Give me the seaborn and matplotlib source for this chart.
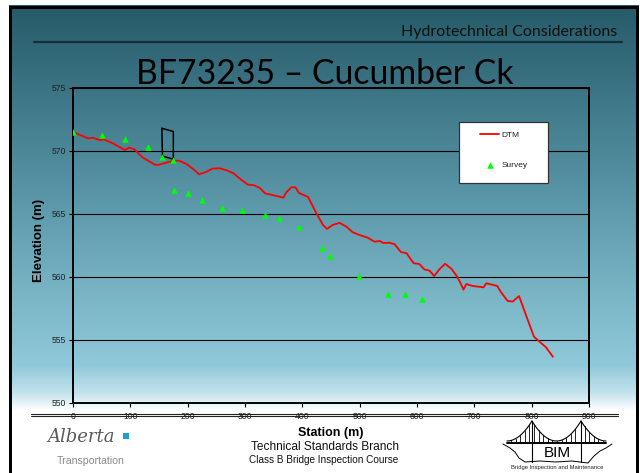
import numpy as np
import matplotlib
matplotlib.use("Agg")
import matplotlib.pyplot as plt
from matplotlib.colors import to_rgb
from matplotlib.patches import Rectangle
import seaborn as sns

# %%
# profile
dtm_station = [0, 27, 35, 48, 53, 70, 90, 98, 107, 122, 143, 149, 175, 185, 198,
               210, 220, 233, 243, 256, 268, 280, 294, 305, 316, 326, 335, 355,
               367, 372, 381, 388, 394, 410, 424, 436, 443, 453, 465, 477, 488,
               500, 514, 526, 535, 541, 552, 561, 572, 582, 594, 604, 613, 622,
               630, 639, 649, 660, 669, 675, 681, 686, 697, 716, 721, 740, 746,
               758, 767, 778, 790, 804, 825, 837]
dtm_elev = [571.5, 571.0, 571.05, 570.85, 570.93, 570.6, 570.08, 570.27, 570.13,
            569.47, 568.91, 568.9, 569.23, 569.23, 568.97, 568.55, 568.15, 568.36,
            568.6, 568.63, 568.47, 568.23, 567.7, 567.33, 567.28, 567.06, 566.64,
            566.43, 566.3, 566.72, 567.12, 567.12, 566.67, 566.35, 565.1, 564.13,
            563.82, 564.13, 564.3, 563.99, 563.55, 563.33, 563.12, 562.8, 562.86,
            562.7, 562.72, 562.6, 561.98, 561.88, 561.1, 561.03, 560.6, 560.5,
            560.08, 560.61, 561.05, 560.65, 560.1, 559.6, 559.0, 559.44, 559.29,
            559.18, 559.5, 559.29, 558.83, 558.1, 558.05, 558.49, 556.98, 555.26,
            554.42, 553.67]

survey_station = [0, 50, 90, 130, 155, 175, 176, 200, 225, 260, 294, 335, 359,
                  394, 434, 449, 499, 549, 579, 609]
survey_elev = [571.5, 571.25, 570.93, 570.3, 569.55, 569.3, 566.93, 566.7, 566.14,
               565.48, 565.34, 564.94, 564.68, 563.97, 562.28, 561.7, 560.08,
               558.65, 558.65, 558.25]

bridge_station = [155, 175, 175, 156, 155]
bridge_elev = [571.8, 571.55, 569.35, 569.6, 571.8]

x_ticks = list(range(0, 1000, 100))
y_ticks = list(range(550, 580, 5))

# %%
sns.set_style("ticks")
plt.rcParams["font.family"] = ["Liberation Sans", "DejaVu Sans"]

W, H = 640, 473
fig = plt.figure(figsize=(W / 100, H / 100), dpi=100)
fig.patch.set_facecolor("white")

# slide background (pixel coords)
bg = fig.add_axes([0, 0, 1, 1], zorder=0)
bg.set_xlim(0, W)
bg.set_ylim(H, 0)
bg.axis("off")

stops = [(6, "#265a68"), (100, "#3e7788"), (200, "#5a97a8"), (300, "#7bb7c7"),
         (365, "#90c9d9"), (393, "#c4e3ec"), (410, "#ffffff"), (473, "#ffffff")]
rows = np.arange(6, H)
grad = np.zeros((len(rows), 1, 3))
for c in range(3):
    grad[:, 0, c] = np.interp(rows, [s[0] for s in stops],
                              [to_rgb(s[1])[c] for s in stops])
bg.imshow(grad, extent=[9, 639, H, 6], aspect="auto", interpolation="bilinear")
bg.add_patch(Rectangle((9, 6), 3, H, color="black", lw=0))
bg.add_patch(Rectangle((636, 6), 3, H, color="black", lw=0))
bg.add_patch(Rectangle((9, 6), 630, 3, color="black", lw=0))
bg.plot([34, 622], [42.5, 42.5], color="#142f37", lw=1.6)
bg.text(617, 36, "Hydrotechnical Considerations", ha="right", va="baseline",
        fontsize=11.5, family="Lato", color="#111111")
bg.text(325, 84, "BF73235 \u2013 Cucumber Ck", ha="center", va="baseline",
        fontsize=24.3, family="Lato", color="black")

# %%
ax = fig.add_axes([73 / W, 1 - 403 / H, 516 / W, 315 / H], zorder=2)
ax.patch.set_alpha(0)

sns.lineplot(x=dtm_station, y=dtm_elev, color="#ff0000", lw=1.3, label="DTM", ax=ax,
             zorder=4)
sns.scatterplot(x=survey_station, y=survey_elev, marker="^", color="#00ff00", s=22,
                linewidth=0, label="Survey", ax=ax, zorder=5)
ax.plot(bridge_station, bridge_elev, color="black", lw=1.1, zorder=3)

ax.set_xlim(0, 900)
ax.set_ylim(550, 575)
ax.set_xticks(x_ticks)
ax.set_yticks(y_ticks)
ax.yaxis.grid(True, color="black", lw=0.8)
for s in ax.spines.values():
    s.set_visible(True)
    s.set_color("black")
    s.set_linewidth(1.4)
ax.tick_params(axis="both", labelsize=6.2, labelcolor="#222222", color="black",
               length=3, width=0.8, direction="out", pad=2)
ax.tick_params(axis="x", pad=3.2)

ax.set_xlabel("Station (m)", fontsize=9, fontweight="bold", color="black")
ax.set_ylabel("Elevation (m)", fontsize=9.5, fontweight="bold", color="black")
ax.xaxis.set_label_coords(0.5, -0.075)
ax.yaxis.set_label_coords(-0.054, 0.517)

# legend with separate white frame
ax.add_patch(Rectangle((0.7475, 0.6975), 0.1735, 0.1935, transform=ax.transAxes,
                       facecolor="white", edgecolor="#333333", lw=0.9, zorder=6))
leg = ax.legend(loc="upper left", bbox_to_anchor=(0.789, 0.862), frameon=False,
                fontsize=6, borderaxespad=0, borderpad=0, handlelength=2.3,
                handletextpad=0.25, labelspacing=2.65)
leg.set_zorder(7)
for t in leg.get_texts():
    t.set_color("#222222")

# %%
# footer drawn on top (the double rule crosses the x tick labels)
top = fig.add_axes([0, 0, 1, 1], zorder=3)
top.set_xlim(0, W)
top.set_ylim(H, 0)
top.axis("off")
top.patch.set_alpha(0)
top.plot([31, 618], [413.7, 413.7], color="#222222", lw=0.8)
top.plot([31, 618], [416.3, 416.3], color="#222222", lw=0.8)

top.text(325, 447, "Technical Standards Branch", ha="center", va="center",
         fontsize=8.6, color="#111111")
top.text(324, 459.5, "Class B Bridge Inspection Course", ha="center", va="center",
         fontsize=7.2, color="#111111")

# Alberta logo
top.text(81, 437, "Alberta", ha="center", va="center", fontsize=13,
         family="DejaVu Serif", style="italic", color="#5a5a5a")
top.add_patch(Rectangle((123, 433), 6, 6, color="#1a9fd5", lw=0))
top.text(91, 461, "Transportation", ha="center", va="center", fontsize=7.6,
         color="#8a8a8a")

# BIM logo
top.plot([507, 606], [442.5, 442.5], color="black", lw=1.4)
top.plot([532, 532], [421, 462], color="black", lw=0.8)
top.plot([581, 581], [421, 462], color="black", lw=0.8)
cx = np.linspace(532, 581, 40)
top.plot(cx, 441 - 20 * ((cx - 556.5) / 24.5) ** 2, color="black", lw=0.8)
lx = np.linspace(507, 532, 20)
top.plot(lx, 441 - 20 * ((lx - 507) / 25) ** 2, color="black", lw=0.8)
rx = np.linspace(581, 606, 20)
top.plot(rx, 441 - 20 * ((606 - rx) / 25) ** 2, color="black", lw=0.8)
for hx in np.arange(511, 604, 4.6):
    if abs(hx - 532) < 2 or abs(hx - 581) < 2:
        continue
    if hx < 532:
        hy = 441 - 20 * ((hx - 507) / 25) ** 2
    elif hx < 581:
        hy = 441 - 20 * ((hx - 556.5) / 24.5) ** 2
    else:
        hy = 441 - 20 * ((606 - hx) / 25) ** 2
    top.plot([hx, hx], [hy, 442.5], color="black", lw=0.6)
top.plot([503, 510, 515, 519, 525, 540, 556, 572, 588, 594, 600, 606, 612],
         [444, 448, 452, 458, 462, 461, 462, 461, 463, 456, 451, 448, 444],
         color="black", lw=0.7)
top.text(557, 452.5, "BIM", ha="center", va="center", fontsize=11, color="black")
top.text(557, 467.5, "Bridge Inspection and Maintenance", ha="center", va="center",
         fontsize=4.2, color="#222222")

fig.savefig("out.png", dpi=100)
